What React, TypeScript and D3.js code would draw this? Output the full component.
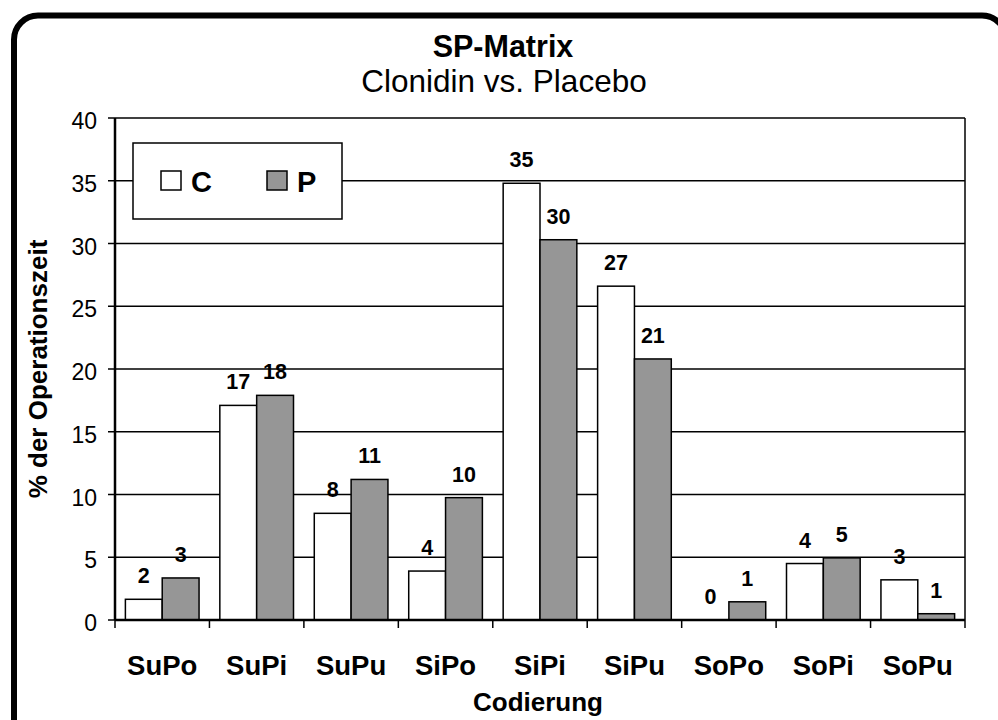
import React from "react";
import * as d3 from "d3";

const categories = ["SuPo", "SuPi", "SuPu", "SiPo", "SiPi", "SiPu", "SoPo", "SoPi", "SoPu"];
const seriesNames = ["C", "P"];
const valuesC = [1.65, 17.1, 8.5, 3.9, 34.8, 26.6, 0, 4.5, 3.2];
const valuesP = [3.35, 17.9, 11.2, 9.75, 30.3, 20.8, 1.45, 4.95, 0.5];
const labelsC = ["2", "17", "8", "4", "35", "27", "0", "4", "3"];
const labelsP = ["3", "18", "11", "10", "30", "21", "1", "5", "1"];
const yTicks = [0, 5, 10, 15, 20, 25, 30, 35, 40];
const colors = ["#ffffff", "#969696"];

const W = 998, H = 720;
const plot = { left: 115, right: 965, top: 118, bottom: 620 };
const FONT = "'Liberation Sans', Arial, sans-serif";

export default function App() {
  const x0 = d3.scaleBand<string>().domain(categories).range([plot.left, plot.right]).paddingInner(0.22).paddingOuter(0.11);
  const x1 = d3.scaleBand<string>().domain(seriesNames).range([0, x0.bandwidth()]);
  const y = d3.scaleLinear().domain([0, 40]).range([plot.bottom, plot.top]);
  const step = (plot.right - plot.left) / categories.length;
  const series = [
    { name: "C", values: valuesC, labels: labelsC, color: colors[0] },
    { name: "P", values: valuesP, labels: labelsP, color: colors[1] },
  ];
  return (
    <svg width={W} height={H} style={{ display: "block", position: "absolute", left: 0, top: 0 }} fontFamily={FONT}>
      <rect x={0} y={0} width={W} height={H} fill="#fff" />
      <rect x={14} y={15.5} width={992} height={740} rx={24} ry={24} fill="#fff" stroke="#000" strokeWidth={6} />
      <text x={503} y={57} textAnchor="middle" fontSize={30.5} fontWeight="bold">SP-Matrix</text>
      <text x={504} y={92} textAnchor="middle" fontSize={31.5}>Clonidin vs. Placebo</text>
      {/* gridlines */}
      {yTicks.map((t) => (
        <line key={"g" + t} x1={plot.left - 7} x2={plot.right} y1={y(t)} y2={y(t)} stroke="#000" strokeWidth={1.5} />
      ))}
      {yTicks.map((t) => (
        <text key={"yt" + t} x={97} y={y(t) + 11} textAnchor="end" fontSize={23}>{t}</text>
      ))}
      <line x1={plot.right} x2={plot.right} y1={plot.top} y2={plot.bottom} stroke="#000" strokeWidth={1.5} />
      {/* bars */}
      {series.map((s) =>
        categories.map((c, i) => {
          const v = s.values[i];
          const bx = (x0(c) as number) + (x1(s.name) as number);
          return v > 0 ? (
            <rect key={s.name + c} x={bx} y={y(v)} width={x1.bandwidth()} height={y(0) - y(v)} fill={s.color} stroke="#000" strokeWidth={1.5} />
          ) : null;
        })
      )}
      {series.map((s) =>
        categories.map((c, i) => {
          const v = s.values[i];
          const bx = (x0(c) as number) + (x1(s.name) as number) + x1.bandwidth() / 2;
          return (
            <text key={"l" + s.name + c} x={bx} y={y(v) - 16} textAnchor="middle" fontSize={21.5} fontWeight="bold">{s.labels[i]}</text>
          );
        })
      )}
      {/* axes */}
      <line x1={plot.left} x2={plot.left} y1={plot.top} y2={plot.bottom} stroke="#000" strokeWidth={2.5} />
      <line x1={plot.left} x2={plot.right} y1={plot.bottom} y2={plot.bottom} stroke="#000" strokeWidth={2.5} />
      {d3.range(categories.length + 1).map((k) => (
        <line key={"xt" + k} x1={plot.left + k * step} x2={plot.left + k * step} y1={plot.bottom} y2={plot.bottom + 8} stroke="#000" strokeWidth={1.5} />
      ))}
      {categories.map((c) => (
        <text key={"xl" + c} x={(x0(c) as number) + x0.bandwidth() / 2} y={675} textAnchor="middle" fontSize={27.5} fontWeight="bold">{c}</text>
      ))}
      <text x={538} y={711} textAnchor="middle" fontSize={26} fontWeight="bold">Codierung</text>
      <text transform={`translate(47,${(plot.top + plot.bottom) / 2}) rotate(-90)`} textAnchor="middle" fontSize={26} fontWeight="bold">% der Operationszeit</text>
      {/* legend */}
      <rect x={133} y={143} width={209} height={76} fill="#fff" stroke="#000" strokeWidth={1.5} />
      <rect x={161} y={171} width={20} height={19} fill={colors[0]} stroke="#000" strokeWidth={1.5} />
      <text x={191} y={192} fontSize={29} fontWeight="bold">C</text>
      <rect x={267} y={171} width={20} height={19} fill={colors[1]} stroke="#000" strokeWidth={1.5} />
      <text x={297} y={192} fontSize={29} fontWeight="bold">P</text>
    </svg>
  );
}
